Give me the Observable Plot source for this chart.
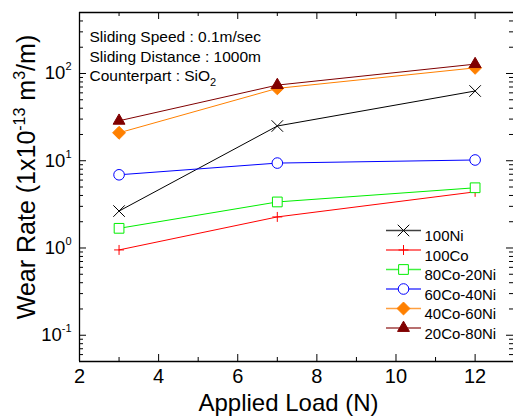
<!DOCTYPE html>
<html><head><meta charset="utf-8">
<script src="https://cdn.jsdelivr.net/npm/d3@7"></script>
<script src="https://cdn.jsdelivr.net/npm/@observablehq/plot@0.6"></script>
<style>html,body{margin:0;padding:0;background:#fff;overflow:hidden}</style>
</head><body><div id="chart"></div>
<script>
// ---- data ----
const loads = [3, 7, 12];
const seriesNames = ["100Ni", "100Co", "80Co-20Ni", "60Co-40Ni", "40Co-60Ni", "20Co-80Ni"];
const wear100Ni     = [2.65, 25, 63];
const wear100Co     = [0.95, 2.27, 4.4];
const wear80Co20Ni  = [1.68, 3.37, 4.9];
const wear60Co40Ni  = [6.9, 9.4, 10.2];
const wear40Co60Ni  = [20.9, 67.5, 116];
const wear20Co80Ni  = [28.7, 73.6, 128];
const wearValues = [wear100Ni, wear100Co, wear80Co20Ni, wear60Co40Ni, wear40Co60Ni, wear20Co80Ni];

const xTickValues = [2, 4, 6, 8, 10, 12];
const xMinorTicks = [3, 5, 7, 9, 11];
const yTickValues = [0.1, 1, 10, 100];
const yTickExponents = ["-1", "0", "1", "2"];
const notes = ["Sliding Speed : 0.1m/sec", "Sliding Distance : 1000m", "Counterpart : SiO_2"];
const xTitle = "Applied Load (N)";
const yTitle = "Wear Rate (1x10^-13 m^3/m)";

// ---- styles ----
const seriesColors  = ["#000000", "#ff0000", "#00ee00", "#0000ff", "#ff8000", "#800000"];
const seriesSymbols = ["times", "plus", "square", "circle", "diamond2", "triangle"];
const seriesFills   = ["none", "none", "white", "white", "#ff8000", "#800000"];
const seriesR       = [5.3, 3.3, 5.5, 5.3, 5.8, 4.4];

const xDom = [2, 12.97];
const yDom = [0.05, 500];
const yMinor = d3.scaleLog().domain(yDom).ticks().filter(v => !yTickValues.includes(v) && v > yDom[0] && v < yDom[1]);

const rows = seriesNames.flatMap((s, i) => loads.map((x, j) => ({series: s, load: x, wear: wearValues[i][j]})));

const segSymbol = {draw(ctx) { ctx.moveTo(-17.5, 0); ctx.lineTo(17.5, 0); }};

const marks = [];
// frame: left, bottom, top
marks.push(Plot.ruleX([xDom[0]], {strokeWidth: 1.3}));
marks.push(Plot.ruleY(yDom, {strokeWidth: 1.3}));
// inward ticks
marks.push(Plot.ruleX(xTickValues, {x: d => d, y1: yDom[0], y2: yDom[0], insetBottom: 7}));
marks.push(Plot.ruleX(xMinorTicks, {x: d => d, y1: yDom[0], y2: yDom[0], insetBottom: 4}));
marks.push(Plot.ruleX(xTickValues, {x: d => d, y1: yDom[1], y2: yDom[1], insetTop: 7}));
marks.push(Plot.ruleX(xMinorTicks, {x: d => d, y1: yDom[1], y2: yDom[1], insetTop: 4}));
marks.push(Plot.ruleY(yTickValues, {y: d => d, x1: xDom[0], x2: xDom[0], insetLeft: 7}));
marks.push(Plot.ruleY(yMinor, {y: d => d, x1: xDom[0], x2: xDom[0], insetLeft: 4}));
marks.push(Plot.ruleY(yTickValues, {y: d => d, x1: xDom[1], x2: xDom[1], insetRight: 7}));
marks.push(Plot.ruleY(yMinor, {y: d => d, x1: xDom[1], x2: xDom[1], insetRight: 4}));
// axis labels
marks.push(Plot.axisX({ticks: xTickValues, tickSize: 0, tickPadding: 7, fontSize: 20, label: null, tickFormat: d => String(d)}));
marks.push(Plot.axisY({ticks: yTickValues, tickSize: 0, tickPadding: 8, fontSize: 18.5, label: null,
  tickFormat: d => "10^" + yTickExponents[yTickValues.indexOf(d)]}));
// y title via the axis label (rotated by Plot)
marks.push(Plot.axisY({ticks: [], tickSize: 0, label: yTitle, labelAnchor: "center", labelArrow: false, labelOffset: 62, fontSize: 25}));
// x title
marks.push(Plot.text([xTitle], {frameAnchor: "bottom", dx: -8, dy: 49, fontSize: 24, text: d => d}));
// notes
notes.forEach((n, k) => marks.push(Plot.text([n], {frameAnchor: "top-left", dx: 10, dy: 18.5 + 19.7 * k, textAnchor: "start", fontSize: 15.5, text: d => d})));
// data series
seriesNames.forEach((s, i) => {
  const data = rows.filter(d => d.series === s);
  marks.push(Plot.line(data, {x: "load", y: "wear", stroke: seriesColors[i], strokeWidth: 1}));
  marks.push(Plot.dot(data, {x: "load", y: "wear", symbol: seriesSymbols[i], r: seriesR[i], stroke: seriesColors[i], fill: seriesFills[i], strokeWidth: 1}));
});
// legend
seriesNames.forEach((s, i) => {
  const dy = 218 + 19.5 * i;
  marks.push(Plot.dot([s], {frameAnchor: "top-left", dx: 324, dy, symbol: segSymbol, stroke: seriesColors[i], strokeWidth: 1.4, strokeOpacity: 0.75, fill: "none"}));
  marks.push(Plot.dot([s], {frameAnchor: "top-left", dx: 324, dy, symbol: seriesSymbols[i], r: seriesR[i], stroke: seriesColors[i], fill: seriesFills[i], strokeWidth: 1}));
  marks.push(Plot.text([s], {frameAnchor: "top-left", dx: 345, dy, text: d => d, textAnchor: "start", fontSize: 15}));
});

const chart = Plot.plot({
  width: 513,
  height: 418,
  marginLeft: 79,
  marginRight: 0,
  marginTop: 12,
  marginBottom: 57,
  x: {domain: xDom},
  y: {type: "log", domain: yDom},
  style: {fontFamily: "'Liberation Sans', Arial, sans-serif", background: "white", color: "black", overflow: "visible"},
  marks
});
document.getElementById("chart").append(chart);

// ---- superscripts / subscripts ----
const root = d3.select(chart);
root.selectAll('g[aria-label="y-axis tick label"] text').each(function () {
  const [b, e] = this.textContent.split("^");
  if (e === undefined) return;
  const t = d3.select(this).text(null);
  t.append("tspan").text(b);
  t.append("tspan").attr("dy", -9).attr("font-size", 11).text(e);
});
root.selectAll("text").filter(function () { return this.textContent === yTitle; }).each(function () {
  const g = d3.select(this.parentNode);
  const prev = g.attr("transform");
  g.attr("transform", (prev ? prev + " " : "") + "translate(0,-10)");
  const t = d3.select(this).text(null);
  t.append("tspan").text("Wear Rate (1x10");
  t.append("tspan").attr("dy", -10).attr("font-size", 16).text("-13");
  t.append("tspan").attr("dy", 10).text(" m");
  t.append("tspan").attr("dy", -10).attr("font-size", 16).text("3");
  t.append("tspan").attr("dy", 10).text("/m)");
});
root.selectAll("text").filter(function () { return this.textContent.includes("SiO_2"); }).each(function () {
  const [a, b] = this.textContent.split("_");
  const t = d3.select(this).text(null);
  t.append("tspan").text(a);
  t.append("tspan").attr("dy", 5).attr("font-size", 11).text(b);
});
</script>
</body></html>
